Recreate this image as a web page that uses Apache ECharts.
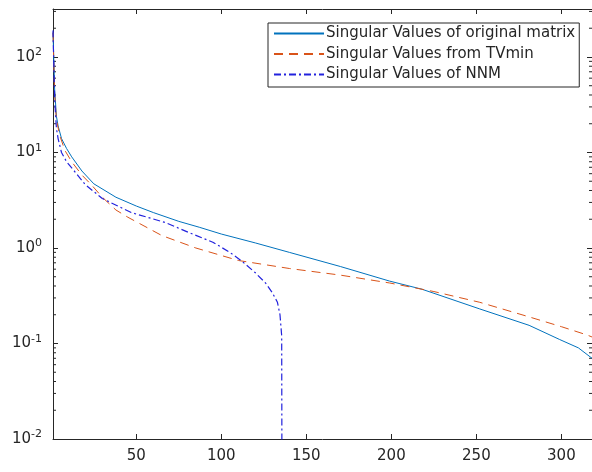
<!DOCTYPE html>
<html>
<head>
<meta charset="utf-8">
<script src="https://cdn.jsdelivr.net/npm/echarts@6/dist/echarts.min.js"></script>
<style>
  html, body { margin: 0; padding: 0; background: #fff; }
  #chart { width: 592px; height: 472px; }
</style>
</head>
<body>
<div id="chart"></div>
<script>
// singular values (index, value)
const origX = [1, 2, 3, 4, 6, 9, 12, 18, 25, 38, 50, 60, 75, 87, 100, 120, 140, 170, 199, 218, 252, 281, 299, 310, 318];
const origY = [180, 45, 24, 19, 14, 11, 9, 6.4, 4.7, 3.4, 2.75, 2.35, 1.9, 1.65, 1.4, 1.13, 0.9, 0.64, 0.45, 0.37, 0.23, 0.155, 0.11, 0.09, 0.07];

const tvX = [1, 2, 3, 5, 8, 12, 18, 24, 30, 38, 45, 52, 65, 85, 110, 140, 170, 199, 225, 252, 281, 300, 315, 318];
const tvY = [180, 40, 22, 15, 10.5, 8, 5.8, 4.5, 3.4, 2.5, 2.1, 1.8, 1.35, 1.0, 0.74, 0.61, 0.52, 0.43, 0.35, 0.27, 0.19, 0.15, 0.123, 0.117];

const nnmX = [1, 2, 3, 4, 6, 9, 13.5, 20, 30, 47, 67, 81, 95, 105, 112, 120, 126, 130, 133, 134.5, 135.5, 136];
const nnmY = [190, 35, 18, 14, 10, 8, 6.4, 4.6, 3.3, 2.35, 1.85, 1.45, 1.15, 0.9, 0.73, 0.55, 0.43, 0.34, 0.27, 0.2, 0.12, 1e-6];

const names = ['Singular Values of original matrix', 'Singular Values from TVmin', 'Singular Values of NNM'];
const xTicks = [50, 100, 150, 200, 250, 300];
const yTicks = [0.01, 0.1, 1, 10, 100];

// minor ticks of the log axis (2..9 per decade)
const minorTicks = [];
for (let k = -2; k <= 2; k++) {
  for (let m = 2; m <= 9; m++) {
    const v = m * Math.pow(10, k);
    if (v < 318) minorTicks.push([1, v]);
  }
}

const axisColor = '#262626';
const font = 'DejaVu Sans';

const chart = echarts.init(document.getElementById('chart'));

const xAxisBase = {
  type: 'value',
  min: 1,
  max: 318,
  splitLine: { show: false },
  axisLine: { lineStyle: { color: axisColor, width: 1 } },
  axisTick: { inside: true, length: 5, customValues: xTicks, lineStyle: { color: axisColor } }
};
const yAxisBase = {
  type: 'log',
  logBase: 10,
  min: 0.01,
  max: 318,
  splitLine: { show: false },
  axisLine: { show: true, lineStyle: { color: axisColor, width: 1 } },
  axisTick: { show: true, inside: true, length: 5, customValues: yTicks, lineStyle: { color: axisColor } }
};

chart.setOption({
  animation: false,
  backgroundColor: '#fff',
  textStyle: { fontFamily: font },
  grid: { left: 53, right: -2, top: 9, bottom: 33 },
  legend: {
    data: names,
    orient: 'vertical',
    left: 268,
    top: 23,
    itemWidth: 50,
    itemHeight: 14,
    itemGap: 5.5,
    padding: [3, 4, 5, 5],
    backgroundColor: '#fff',
    borderColor: axisColor,
    borderWidth: 1,
    borderRadius: 0,
    itemStyle: { opacity: 0 },
    textStyle: { fontFamily: font, fontSize: 15, lineHeight: 15, color: '#262626', padding: [0, 0, 0, -3] }
  },
  xAxis: [
    Object.assign({}, xAxisBase, {
      position: 'bottom',
      axisLabel: { customValues: xTicks, fontFamily: font, fontSize: 15, color: '#262626', margin: 10 }
    }),
    Object.assign({}, xAxisBase, {
      position: 'top',
      axisLabel: { show: false }
    })
  ],
  yAxis: [
    Object.assign({}, yAxisBase, {
      position: 'left',
      axisLabel: {
        customValues: yTicks,
        margin: 11,
        formatter: v => '{b|10}{s|' + Math.round(Math.log10(v)) + '}',
        rich: {
          b: { fontFamily: font, fontSize: 15, color: '#262626' },
          s: { fontFamily: font, fontSize: 11, color: '#262626', verticalAlign: 'bottom', padding: [0, 0, 9, 0] }
        }
      }
    }),
    Object.assign({}, yAxisBase, {
      position: 'right',
      axisLabel: { show: false }
    })
  ],
  series: [
    {
      name: names[0],
      type: 'line',
      symbol: 'none',
      data: origX.map((x, i) => [x, origY[i]]),
      color: '#0072BD',
      lineStyle: { width: 1, color: '#0072BD' }
    },
    {
      name: names[1],
      type: 'line',
      symbol: 'none',
      data: tvX.map((x, i) => [x, tvY[i]]),
      color: '#D95319',
      lineStyle: { width: 1, color: '#D95319', type: [9, 6] }
    },
    {
      name: names[2],
      type: 'line',
      symbol: 'none',
      data: nnmX.map((x, i) => [x, nnmY[i]]),
      color: '#2222dd',
      lineStyle: { width: 1.2, color: '#2222dd', type: [7, 3, 2, 3] }
    },
    {
      // log-axis minor ticks on both sides
      type: 'custom',
      silent: true,
      clip: false,
      data: minorTicks,
      renderItem: (params, api) => {
        const p = api.coord([api.value(0), api.value(1)]);
        const cs = params.coordSys;
        const st = { stroke: axisColor, lineWidth: 1 };
        return {
          type: 'group',
          children: [
            { type: 'line', shape: { x1: cs.x, y1: p[1], x2: cs.x + 3, y2: p[1] }, style: st },
            { type: 'line', shape: { x1: cs.x + cs.width - 3, y1: p[1], x2: cs.x + cs.width, y2: p[1] }, style: st }
          ]
        };
      }
    }
  ]
});
</script>
</body>
</html>
